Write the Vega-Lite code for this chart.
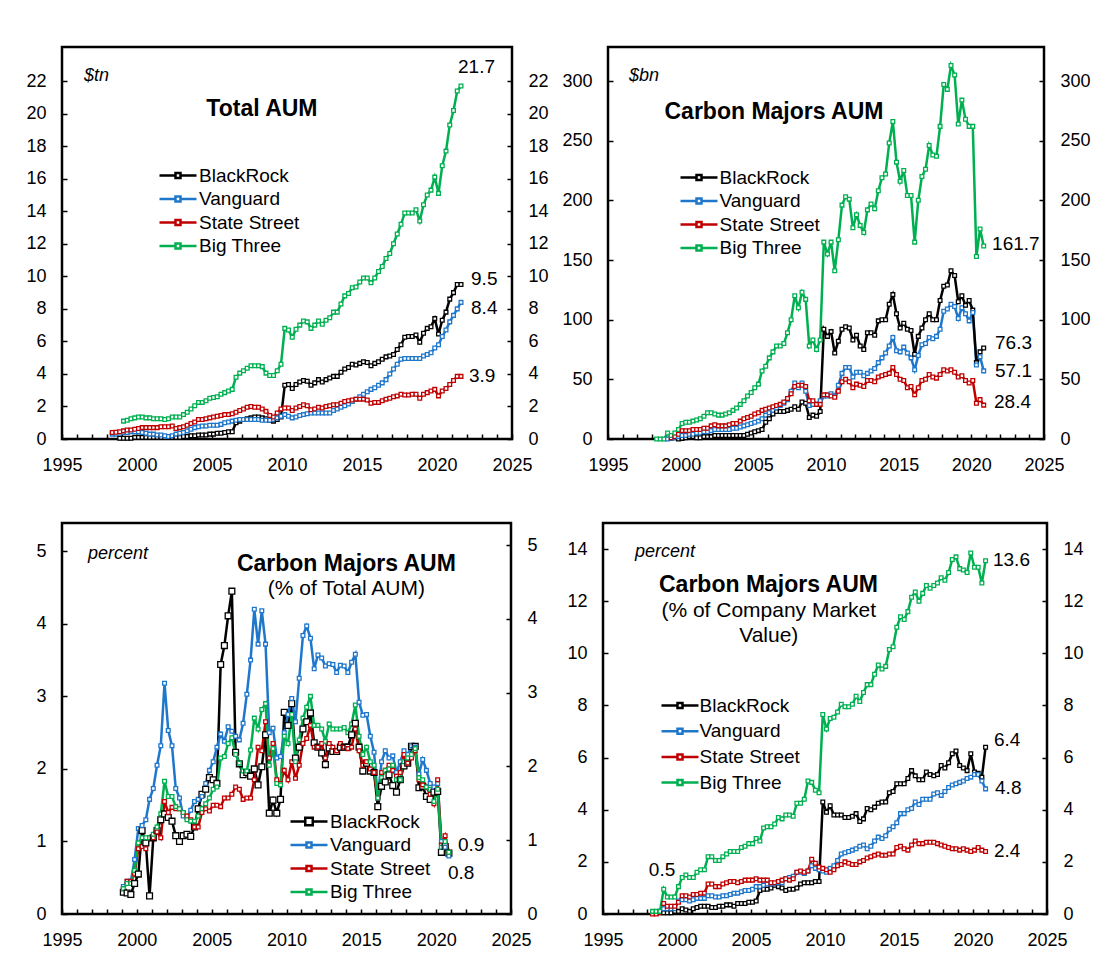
{
"$schema":"https://vega.github.io/schema/vega-lite/v6.json",
"padding":{"left":24,"top":45,"right":10,"bottom":10},
"background":"white",
"spacing":45,
"resolve":{"scale":{"color":"independent"},"legend":{"color":"independent"}},
"config":{
 "font":"Liberation Sans",
 "view":{"stroke":"black","strokeWidth":2.5},
 "axis":{"grid":false,"domain":false,"tickColor":"black","tickWidth":1.5,"labelColor":"black","labelFontSize":18,"labelOverlap":false,"labelBound":false,"labelFlush":false},
 "legend":{"padding":0,"labelFontSize":19,"labelColor":"black","labelLimit":300},
 "text":{"color":"black"}
},
"vconcat":[
{"hconcat":[
{
 "width":450,"height":392,
 "layer":[
  {
   "encoding":{
    "x":{"field":"t","type":"quantitative","scale":{"domain":[1995,2025],"nice":false,"zero":false},"axis":{"title":null,"values":[1995,1996,1997,1998,1999,2000,2001,2002,2003,2004,2005,2006,2007,2008,2009,2010,2011,2012,2013,2014,2015,2016,2017,2018,2019,2020,2021,2022,2023,2024,2025],"format":"d","labelExpr":"datum.value % 5 === 0 ? datum.label : ''","tickSize":-5,"labelPadding":22}},
    "y":{"field":"v","type":"quantitative","scale":{"domain":[0,24.1],"nice":false},"axis":{"title":null,"orient":"left","values":[0,2,4,6,8,10,12,14,16,18,20,22],"tickSize":-5,"labelPadding":21}}
   },
   "layer":[
    {
     "data":{"values":[
{"t":1998.35,"V":0.3,"S":0.4},
{"t":1998.6,"V":0.3,"S":0.42},
{"t":1998.85,"B":0.05,"V":0.35,"S":0.45},
{"t":1999.1,"B":0.05,"V":0.4,"S":0.5,"G":1.1},
{"t":1999.35,"B":0.05,"V":0.4,"S":0.55,"G":1.15},
{"t":1999.6,"B":0.05,"V":0.45,"S":0.55,"G":1.25},
{"t":1999.85,"B":0.1,"V":0.45,"S":0.6,"G":1.3},
{"t":2000.1,"B":0.1,"V":0.45,"S":0.65,"G":1.35},
{"t":2000.35,"B":0.1,"V":0.4,"S":0.7,"G":1.35},
{"t":2000.6,"B":0.1,"V":0.35,"S":0.7,"G":1.3},
{"t":2000.85,"B":0.1,"V":0.3,"S":0.7,"G":1.3},
{"t":2001.1,"B":0.1,"V":0.3,"S":0.7,"G":1.25},
{"t":2001.35,"B":0.1,"V":0.25,"S":0.7,"G":1.25},
{"t":2001.6,"B":0.1,"V":0.25,"S":0.75,"G":1.25},
{"t":2001.85,"B":0.1,"V":0.2,"S":0.75,"G":1.2},
{"t":2002.1,"B":0.1,"V":0.15,"S":0.75,"G":1.25},
{"t":2002.35,"B":0.1,"V":0.2,"S":0.8,"G":1.35},
{"t":2002.6,"B":0.1,"V":0.3,"S":0.65,"G":1.35},
{"t":2002.85,"B":0.1,"V":0.35,"S":0.7,"G":1.35},
{"t":2003.1,"B":0.15,"V":0.4,"S":0.75,"G":1.5},
{"t":2003.35,"B":0.15,"V":0.5,"S":0.85,"G":1.65},
{"t":2003.6,"B":0.2,"V":0.6,"S":0.95,"G":1.85},
{"t":2003.85,"B":0.2,"V":0.7,"S":1.05,"G":2.05},
{"t":2004.1,"B":0.25,"V":0.75,"S":1.2,"G":2.25},
{"t":2004.35,"B":0.25,"V":0.8,"S":1.2,"G":2.25},
{"t":2004.6,"B":0.25,"V":0.8,"S":1.25,"G":2.35},
{"t":2004.85,"B":0.3,"V":0.85,"S":1.3,"G":2.5},
{"t":2005.1,"B":0.3,"V":0.85,"S":1.35,"G":2.55},
{"t":2005.35,"B":0.35,"V":0.85,"S":1.4,"G":2.6},
{"t":2005.6,"B":0.35,"V":0.9,"S":1.45,"G":2.75},
{"t":2005.85,"B":0.4,"V":1.0,"S":1.5,"G":2.85},
{"t":2006.1,"B":0.45,"V":1.05,"S":1.5,"G":2.95},
{"t":2006.35,"B":0.45,"V":1.1,"S":1.55,"G":3.05},
{"t":2006.6,"B":1.0,"V":1.15,"S":1.65,"G":3.8},
{"t":2006.85,"B":1.1,"V":1.2,"S":1.75,"G":4.05},
{"t":2007.1,"B":1.2,"V":1.2,"S":1.85,"G":4.2},
{"t":2007.35,"B":1.25,"V":1.2,"S":1.95,"G":4.35},
{"t":2007.6,"B":1.3,"V":1.2,"S":2.0,"G":4.5},
{"t":2007.85,"B":1.35,"V":1.2,"S":1.95,"G":4.5},
{"t":2008.1,"B":1.35,"V":1.2,"S":1.95,"G":4.5},
{"t":2008.35,"B":1.3,"V":1.15,"S":1.85,"G":4.45},
{"t":2008.6,"B":1.25,"V":1.15,"S":1.7,"G":4.05},
{"t":2008.85,"B":1.15,"V":1.15,"S":1.45,"G":3.9},
{"t":2009.1,"B":1.1,"V":1.2,"S":1.35,"G":3.9},
{"t":2009.35,"B":1.2,"V":1.3,"S":1.6,"G":4.2},
{"t":2009.6,"B":1.35,"V":1.4,"S":1.85,"G":4.6},
{"t":2009.85,"B":3.3,"V":1.5,"S":1.9,"G":6.8},
{"t":2010.1,"B":3.35,"V":1.4,"S":1.9,"G":6.7},
{"t":2010.35,"B":3.1,"V":1.3,"S":1.75,"G":6.25},
{"t":2010.6,"B":3.35,"V":1.35,"S":1.9,"G":6.75},
{"t":2010.85,"B":3.5,"V":1.45,"S":2.0,"G":7.0},
{"t":2011.1,"B":3.6,"V":1.5,"S":2.1,"G":7.25},
{"t":2011.35,"B":3.55,"V":1.55,"S":2.05,"G":7.2},
{"t":2011.6,"B":3.3,"V":1.6,"S":1.8,"G":6.8},
{"t":2011.85,"B":3.45,"V":1.6,"S":1.85,"G":7.0},
{"t":2012.1,"B":3.65,"V":1.6,"S":1.95,"G":7.25},
{"t":2012.35,"B":3.5,"V":1.6,"S":1.9,"G":7.05},
{"t":2012.6,"B":3.65,"V":1.6,"S":2.0,"G":7.3},
{"t":2012.85,"B":3.75,"V":1.6,"S":2.05,"G":7.45},
{"t":2013.1,"B":3.85,"V":1.75,"S":2.1,"G":7.8},
{"t":2013.35,"B":3.85,"V":1.85,"S":2.1,"G":7.8},
{"t":2013.6,"B":4.1,"V":1.95,"S":2.2,"G":8.3},
{"t":2013.85,"B":4.3,"V":2.05,"S":2.3,"G":8.8},
{"t":2014.1,"B":4.4,"V":2.15,"S":2.35,"G":8.95},
{"t":2014.35,"B":4.6,"V":2.3,"S":2.4,"G":9.3},
{"t":2014.6,"B":4.55,"V":2.45,"S":2.45,"G":9.35},
{"t":2014.85,"B":4.65,"V":2.6,"S":2.45,"G":9.65},
{"t":2015.1,"B":4.75,"V":2.75,"S":2.45,"G":9.9},
{"t":2015.35,"B":4.7,"V":2.9,"S":2.4,"G":9.9},
{"t":2015.6,"B":4.5,"V":3.05,"S":2.2,"G":9.6},
{"t":2015.85,"B":4.65,"V":3.15,"S":2.25,"G":9.9},
{"t":2016.1,"B":4.75,"V":3.3,"S":2.25,"G":10.3},
{"t":2016.35,"B":4.9,"V":3.45,"S":2.35,"G":10.6},
{"t":2016.6,"B":5.05,"V":3.65,"S":2.45,"G":11.1},
{"t":2016.85,"B":5.1,"V":4.0,"S":2.5,"G":11.4},
{"t":2017.1,"B":5.2,"V":4.3,"S":2.6,"G":12.0},
{"t":2017.35,"B":5.5,"V":4.6,"S":2.65,"G":12.6},
{"t":2017.6,"B":5.8,"V":4.9,"S":2.75,"G":13.2},
{"t":2017.85,"B":6.25,"V":4.95,"S":2.7,"G":13.9},
{"t":2018.1,"B":6.3,"V":4.95,"S":2.7,"G":13.9},
{"t":2018.35,"B":6.3,"V":4.95,"S":2.75,"G":13.9},
{"t":2018.6,"B":6.4,"V":4.95,"S":2.75,"G":14.1},
{"t":2018.85,"B":5.95,"V":4.95,"S":2.5,"G":13.4},
{"t":2019.1,"B":6.5,"V":5.1,"S":2.75,"G":14.4},
{"t":2019.35,"B":6.8,"V":5.2,"S":2.85,"G":15.0},
{"t":2019.6,"B":6.9,"V":5.3,"S":2.95,"G":15.3},
{"t":2019.85,"B":7.4,"V":5.6,"S":3.05,"G":16.1},
{"t":2020.1,"B":6.45,"V":5.8,"S":2.65,"G":15.1},
{"t":2020.35,"B":7.3,"V":6.3,"S":2.95,"G":16.8},
{"t":2020.6,"B":7.8,"V":6.7,"S":3.1,"G":17.7},
{"t":2020.85,"B":8.6,"V":7.2,"S":3.35,"G":19.3},
{"t":2021.1,"B":9.0,"V":7.6,"S":3.6,"G":20.2},
{"t":2021.35,"B":9.5,"V":8.0,"S":3.85,"G":21.4},
{"t":2021.6,"B":9.5,"V":8.4,"S":3.85,"G":21.7}
     ]},
     "transform":[{"fold":["B","V","S","G"],"as":["s","v"]},{"filter":"isValid(datum.v)"}],
     "encoding":{"color":{"field":"s","type":"nominal","scale":{"domain":["B","V","S","G"],"range":["#000000","#1F77CC","#C00000","#00B050"]},"legend":{"title":null,"orient":"none","legendX":106.5,"legendY":119,"rowPadding":3.5,"symbolType":"M-3.7,0H-0.5M0.5,0H3.7M-0.5,-0.5H0.5V0.5H-0.5Z","symbolSize":100,"symbolStrokeWidth":2.5,"labelOffset":11.5,"labelExpr":"datum.label == 'B' ? 'BlackRock' : datum.label == 'V' ? 'Vanguard' : datum.label == 'S' ? 'State Street' : 'Big Three'"}}},
     "layer":[
      {"mark":{"type":"line","strokeWidth":2.5}},
      {"mark":{"type":"point","shape":"square","filled":false,"fill":"white","size":14,"strokeWidth":1.3,"opacity":1}}
     ]
    },
    {"data":{"values":[{"t":2008.33,"v":20.3,"lab":"Total AUM"}]},"mark":{"type":"text","fontSize":23,"fontWeight":"bold"},"encoding":{"text":{"field":"lab"}}},
    {"data":{"values":[{"t":1996.47,"v":22.3,"lab":"$tn"}]},"mark":{"type":"text","fontSize":18,"fontStyle":"italic","align":"left"},"encoding":{"text":{"field":"lab"}}},
    {"data":{"values":[{"t":2021.4,"v":22.85,"lab":"21.7"},{"t":2022.27,"v":9.83,"lab":"9.5"},{"t":2022.27,"v":8.07,"lab":"8.4"},{"t":2022.13,"v":3.87,"lab":"3.9"}]},"mark":{"type":"text","fontSize":19,"align":"left"},"encoding":{"text":{"field":"lab"}}}
   ]
  },
  {"data":{"values":[{"r":0}]},"mark":{"type":"tick","opacity":0},"encoding":{"y":{"field":"r","type":"quantitative","scale":{"domain":[0,24.1],"nice":false},"axis":{"title":null,"orient":"right","values":[0,2,4,6,8,10,12,14,16,18,20,22],"tickSize":-5,"labelPadding":21}}}}
 ],
 "resolve":{"scale":{"y":"independent"}}
},
{
 "width":436,"height":392,
 "layer":[
  {
   "encoding":{
    "x":{"field":"t","type":"quantitative","scale":{"domain":[1995,2025],"nice":false,"zero":false},"axis":{"title":null,"values":[1995,1996,1997,1998,1999,2000,2001,2002,2003,2004,2005,2006,2007,2008,2009,2010,2011,2012,2013,2014,2015,2016,2017,2018,2019,2020,2021,2022,2023,2024,2025],"format":"d","labelExpr":"datum.value % 5 === 0 ? datum.label : ''","tickSize":-5,"labelPadding":22}},
    "y":{"field":"v","type":"quantitative","scale":{"domain":[0,328.5],"nice":false},"axis":{"title":null,"orient":"left","values":[0,50,100,150,200,250,300],"tickSize":-5,"labelPadding":21}}
   },
   "layer":[
    {
     "data":{"values":[
{"t":1998.35,"G":0},
{"t":1998.6,"G":0},
{"t":1998.85,"G":0},
{"t":1999.1,"V":0,"G":5},
{"t":1999.35,"V":0.5,"S":1,"G":3},
{"t":1999.6,"V":1,"S":2,"G":5},
{"t":1999.85,"B":0,"V":2,"S":4,"G":8},
{"t":2000.1,"B":0.5,"V":3,"S":7,"G":13},
{"t":2000.35,"B":1,"V":3,"S":7,"G":14},
{"t":2000.6,"B":2,"V":4,"S":7,"G":14},
{"t":2000.85,"B":2,"V":4,"S":8,"G":15},
{"t":2001.1,"B":1,"V":5,"S":8,"G":16},
{"t":2001.35,"B":1,"V":5,"S":8,"G":17},
{"t":2001.6,"B":2,"V":6,"S":9,"G":19},
{"t":2001.85,"B":2,"V":6,"S":9,"G":22},
{"t":2002.1,"B":2,"V":7,"S":11,"G":22},
{"t":2002.35,"B":3,"V":8,"S":12,"G":21},
{"t":2002.6,"B":3,"V":8,"S":11,"G":20},
{"t":2002.85,"B":3,"V":8,"S":11,"G":20},
{"t":2003.1,"B":3,"V":8,"S":11,"G":21},
{"t":2003.35,"B":3,"V":8,"S":12,"G":22},
{"t":2003.6,"B":3,"V":9,"S":13,"G":24},
{"t":2003.85,"B":3,"V":9,"S":13,"G":26},
{"t":2004.1,"B":3,"V":10,"S":15,"G":29},
{"t":2004.35,"B":3,"V":11,"S":17,"G":32},
{"t":2004.6,"B":4,"V":12,"S":18,"G":36},
{"t":2004.85,"B":5,"V":13,"S":19,"G":39},
{"t":2005.1,"B":6,"V":14,"S":21,"G":43},
{"t":2005.35,"B":7,"V":15,"S":22,"G":46},
{"t":2005.6,"B":8,"V":17,"S":24,"G":57},
{"t":2005.85,"B":14,"V":20,"S":25,"G":61},
{"t":2006.1,"B":17,"V":22,"S":26,"G":68},
{"t":2006.35,"B":21,"V":24,"S":27,"G":73},
{"t":2006.6,"B":23,"V":26,"S":28,"G":78},
{"t":2006.85,"B":23,"V":28,"S":29,"G":78},
{"t":2007.1,"B":23,"V":30,"S":31,"G":80},
{"t":2007.35,"B":24,"V":33,"S":34,"G":89},
{"t":2007.6,"B":25,"V":40,"S":38,"G":100},
{"t":2007.85,"B":27,"V":47,"S":44,"G":120},
{"t":2008.1,"B":25,"V":43,"S":45,"G":110},
{"t":2008.35,"B":31,"V":47,"S":45,"G":123},
{"t":2008.6,"B":30,"V":40,"S":44,"G":117},
{"t":2008.85,"B":18,"V":28,"S":32,"G":78},
{"t":2009.1,"B":20,"V":29,"S":32,"G":83},
{"t":2009.35,"B":19,"V":29,"S":29,"G":75},
{"t":2009.6,"B":23,"V":32,"S":29,"G":83},
{"t":2009.85,"B":92,"V":36,"S":37,"G":165},
{"t":2010.1,"B":86,"V":36,"S":37,"G":155},
{"t":2010.35,"B":90,"V":38,"S":36,"G":165},
{"t":2010.6,"B":72,"V":36,"S":35,"G":141},
{"t":2010.85,"B":82,"V":45,"S":40,"G":167},
{"t":2011.1,"B":92,"V":55,"S":48,"G":196},
{"t":2011.35,"B":94,"V":60,"S":50,"G":203},
{"t":2011.6,"B":93,"V":60,"S":48,"G":201},
{"t":2011.85,"B":83,"V":52,"S":43,"G":177},
{"t":2012.1,"B":87,"V":56,"S":46,"G":188},
{"t":2012.35,"B":78,"V":56,"S":45,"G":179},
{"t":2012.6,"B":75,"V":53,"S":44,"G":173},
{"t":2012.85,"B":89,"V":55,"S":49,"G":192},
{"t":2013.1,"B":89,"V":57,"S":49,"G":197},
{"t":2013.35,"B":87,"V":59,"S":48,"G":193},
{"t":2013.6,"B":99,"V":64,"S":52,"G":208},
{"t":2013.85,"B":100,"V":68,"S":53,"G":219},
{"t":2014.1,"B":100,"V":72,"S":54,"G":222},
{"t":2014.35,"B":113,"V":78,"S":55,"G":248},
{"t":2014.6,"B":121,"V":85,"S":60,"G":266},
{"t":2014.85,"B":105,"V":74,"S":54,"G":232},
{"t":2015.1,"B":93,"V":73,"S":50,"G":216},
{"t":2015.35,"B":97,"V":77,"S":49,"G":225},
{"t":2015.6,"B":92,"V":72,"S":43,"G":204},
{"t":2015.85,"B":91,"V":68,"S":44,"G":204},
{"t":2016.1,"B":71,"V":58,"S":37,"G":165},
{"t":2016.35,"B":86,"V":70,"S":43,"G":200},
{"t":2016.6,"B":93,"V":79,"S":49,"G":220},
{"t":2016.85,"B":100,"V":80,"S":50,"G":226},
{"t":2017.1,"B":105,"V":85,"S":54,"G":246},
{"t":2017.35,"B":100,"V":84,"S":52,"G":238},
{"t":2017.6,"B":100,"V":86,"S":51,"G":237},
{"t":2017.85,"B":116,"V":92,"S":54,"G":262},
{"t":2018.1,"B":128,"V":107,"S":58,"G":297},
{"t":2018.35,"B":129,"V":109,"S":57,"G":293},
{"t":2018.6,"B":141,"V":113,"S":58,"G":313},
{"t":2018.85,"B":137,"V":111,"S":56,"G":305},
{"t":2019.1,"B":115,"V":101,"S":52,"G":264},
{"t":2019.35,"B":120,"V":110,"S":53,"G":284},
{"t":2019.6,"B":112,"V":105,"S":49,"G":268},
{"t":2019.85,"B":116,"V":99,"S":47,"G":262},
{"t":2020.1,"B":108,"V":106,"S":49,"G":262},
{"t":2020.35,"B":64,"V":62,"S":30,"G":153},
{"t":2020.6,"B":73,"V":69,"S":33,"G":176},
{"t":2020.85,"B":76.3,"V":57.1,"S":28.4,"G":161.7}
     ]},
     "transform":[{"fold":["B","V","S","G"],"as":["s","v"]},{"filter":"isValid(datum.v)"}],
     "encoding":{"color":{"field":"s","type":"nominal","scale":{"domain":["B","V","S","G"],"range":["#000000","#1F77CC","#C00000","#00B050"]},"legend":{"title":null,"orient":"none","legendX":81.5,"legendY":121,"rowPadding":3.5,"symbolType":"M-3.7,0H-0.5M0.5,0H3.7M-0.5,-0.5H0.5V0.5H-0.5Z","symbolSize":100,"symbolStrokeWidth":2.5,"labelOffset":11,"labelExpr":"datum.label == 'B' ? 'BlackRock' : datum.label == 'V' ? 'Vanguard' : datum.label == 'S' ? 'State Street' : 'Big Three'"}}},
     "layer":[
      {"mark":{"type":"line","strokeWidth":2.5}},
      {"mark":{"type":"point","shape":"square","filled":false,"fill":"white","size":14,"strokeWidth":1.3,"opacity":1}}
     ]
    },
    {"data":{"values":[{"t":2006.42,"v":274,"lab":"Carbon Majors AUM"}]},"mark":{"type":"text","fontSize":23,"fontWeight":"bold"},"encoding":{"text":{"field":"lab"}}},
    {"data":{"values":[{"t":1996.45,"v":304,"lab":"$bn"}]},"mark":{"type":"text","fontSize":18,"fontStyle":"italic","align":"left"},"encoding":{"text":{"field":"lab"}}},
    {"data":{"values":[{"t":2021.43,"v":163.7,"lab":"161.7"},{"t":2021.63,"v":80.7,"lab":"76.3"},{"t":2021.63,"v":57,"lab":"57.1"},{"t":2021.56,"v":31.3,"lab":"28.4"}]},"mark":{"type":"text","fontSize":19,"align":"left"},"encoding":{"text":{"field":"lab"}}}
   ]
  },
  {"data":{"values":[{"r":0}]},"mark":{"type":"tick","opacity":0},"encoding":{"y":{"field":"r","type":"quantitative","scale":{"domain":[0,328.5],"nice":false},"axis":{"title":null,"orient":"right","values":[0,50,100,150,200,250,300],"tickSize":-5,"labelPadding":21}}}}
 ],
 "resolve":{"scale":{"y":"independent"}}
}
],"spacing":96,"bounds":"flush","resolve":{"scale":{"color":"independent"},"legend":{"color":"independent"}}},
{"hconcat":[
{
 "width":449,"height":391,
 "layer":[
  {
   "encoding":{
    "x":{"field":"t","type":"quantitative","scale":{"domain":[1995,2025],"nice":false,"zero":false},"axis":{"title":null,"values":[1995,1996,1997,1998,1999,2000,2001,2002,2003,2004,2005,2006,2007,2008,2009,2010,2011,2012,2013,2014,2015,2016,2017,2018,2019,2020,2021,2022,2023,2024,2025],"format":"d","labelExpr":"datum.value % 5 === 0 ? datum.label : ''","tickSize":-5,"labelPadding":22}},
    "y":{"field":"v","type":"quantitative","scale":{"domain":[0,5.39],"nice":false},"axis":{"title":null,"orient":"left","values":[0,1,2,3,4,5],"tickSize":-5,"labelPadding":21}}
   },
   "layer":[
    {
     "data":{"values":[
{"t":1999.1,"B":0.30,"V":0.38,"S":0.35,"G":0.35},
{"t":1999.35,"B":0.29,"V":0.45,"S":0.45,"G":0.42},
{"t":1999.6,"B":0.27,"V":0.45,"S":0.45,"G":0.42},
{"t":1999.85,"B":0.42,"V":0.75,"S":0.55,"G":0.6},
{"t":2000.1,"B":0.55,"V":1.18,"S":0.9,"G":0.98},
{"t":2000.35,"B":1.15,"V":1.22,"S":0.93,"G":1.05},
{"t":2000.6,"B":0.98,"V":1.3,"S":0.9,"G":1.05},
{"t":2000.85,"B":0.25,"V":1.58,"S":1.05,"G":1.05},
{"t":2001.1,"B":1.05,"V":1.73,"S":1.05,"G":1.1},
{"t":2001.35,"B":1.15,"V":2.05,"S":1.13,"G":1.2},
{"t":2001.6,"B":1.3,"V":2.32,"S":1.05,"G":1.38},
{"t":2001.85,"B":1.38,"V":3.18,"S":1.55,"G":1.83},
{"t":2002.1,"B":1.33,"V":2.53,"S":1.4,"G":1.62},
{"t":2002.35,"B":1.28,"V":2.32,"S":1.47,"G":1.62},
{"t":2002.6,"B":1.08,"V":1.73,"S":1.45,"G":1.48},
{"t":2002.85,"B":1.0,"V":1.6,"S":1.45,"G":1.45},
{"t":2003.1,"B":1.08,"V":1.35,"S":1.4,"G":1.4},
{"t":2003.35,"B":1.1,"V":1.33,"S":1.35,"G":1.3},
{"t":2003.6,"B":1.07,"V":1.43,"S":1.3,"G":1.28},
{"t":2003.85,"B":1.2,"V":1.55,"S":1.2,"G":1.28},
{"t":2004.1,"B":1.45,"V":1.58,"S":1.2,"G":1.35},
{"t":2004.35,"B":1.65,"V":1.62,"S":1.4,"G":1.45},
{"t":2004.6,"B":1.72,"V":1.8,"S":1.45,"G":1.52},
{"t":2004.85,"B":1.88,"V":1.98,"S":1.42,"G":1.6},
{"t":2005.1,"B":1.85,"V":2.1,"S":1.5,"G":1.72},
{"t":2005.35,"B":1.8,"V":2.3,"S":1.5,"G":1.75},
{"t":2005.6,"B":3.44,"V":2.48,"S":1.48,"G":2.15},
{"t":2005.85,"B":3.7,"V":2.38,"S":1.6,"G":2.17},
{"t":2006.1,"B":4.11,"V":2.58,"S":1.6,"G":2.35},
{"t":2006.35,"B":4.45,"V":2.52,"S":1.65,"G":2.43},
{"t":2006.6,"B":2.23,"V":2.45,"S":1.75,"G":2.2},
{"t":2006.85,"B":2.07,"V":2.4,"S":1.72,"G":2.08},
{"t":2007.1,"B":1.92,"V":2.63,"S":1.58,"G":1.97},
{"t":2007.35,"B":1.95,"V":3.03,"S":1.6,"G":1.97},
{"t":2007.6,"B":1.9,"V":3.5,"S":1.6,"G":2.26},
{"t":2007.85,"B":2.0,"V":4.2,"S":1.85,"G":2.7},
{"t":2008.1,"B":1.78,"V":3.72,"S":2.3,"G":2.55},
{"t":2008.35,"B":2.03,"V":4.18,"S":2.25,"G":2.82},
{"t":2008.6,"B":2.47,"V":3.72,"S":2.65,"G":2.9},
{"t":2008.85,"B":1.39,"V":2.5,"S":2.15,"G":2.05},
{"t":2009.1,"B":1.57,"V":2.56,"S":2.35,"G":2.28},
{"t":2009.35,"B":1.39,"V":2.15,"S":1.85,"G":1.8},
{"t":2009.6,"B":1.58,"V":2.17,"S":1.8,"G":1.78},
{"t":2009.85,"B":2.78,"V":2.5,"S":1.98,"G":2.45},
{"t":2010.1,"B":2.6,"V":2.75,"S":1.85,"G":2.35},
{"t":2010.35,"B":2.9,"V":2.97,"S":2.1,"G":2.75},
{"t":2010.6,"B":2.15,"V":2.65,"S":1.87,"G":2.1},
{"t":2010.85,"B":2.3,"V":3.25,"S":2.05,"G":2.4},
{"t":2011.1,"B":2.55,"V":3.84,"S":2.35,"G":2.7},
{"t":2011.35,"B":2.65,"V":3.97,"S":2.42,"G":2.85},
{"t":2011.6,"B":2.77,"V":3.8,"S":2.6,"G":3.0},
{"t":2011.85,"B":2.36,"V":3.38,"S":2.3,"G":2.6},
{"t":2012.1,"B":2.3,"V":3.57,"S":2.3,"G":2.6},
{"t":2012.35,"B":2.22,"V":3.53,"S":2.35,"G":2.55},
{"t":2012.6,"B":2.06,"V":3.42,"S":2.15,"G":2.38},
{"t":2012.85,"B":2.29,"V":3.45,"S":2.35,"G":2.62},
{"t":2013.1,"B":2.24,"V":3.44,"S":2.3,"G":2.55},
{"t":2013.35,"B":2.24,"V":3.33,"S":2.25,"G":2.55},
{"t":2013.6,"B":2.3,"V":3.43,"S":2.35,"G":2.55},
{"t":2013.85,"B":2.3,"V":3.42,"S":2.3,"G":2.57},
{"t":2014.1,"B":2.3,"V":3.33,"S":2.28,"G":2.5},
{"t":2014.35,"B":2.47,"V":3.47,"S":2.3,"G":2.62},
{"t":2014.6,"B":2.63,"V":3.58,"S":2.55,"G":2.88},
{"t":2014.85,"B":2.3,"V":2.92,"S":2.25,"G":2.45},
{"t":2015.1,"B":1.97,"V":2.74,"S":2.05,"G":2.2},
{"t":2015.35,"B":2.08,"V":2.75,"S":2.1,"G":2.3},
{"t":2015.6,"B":1.97,"V":2.45,"S":2.0,"G":2.1},
{"t":2015.85,"B":1.95,"V":2.23,"S":1.95,"G":2.05},
{"t":2016.1,"B":1.48,"V":1.6,"S":1.6,"G":1.6},
{"t":2016.35,"B":1.76,"V":2.1,"S":1.95,"G":1.88},
{"t":2016.6,"B":1.82,"V":2.25,"S":1.98,"G":1.98},
{"t":2016.85,"B":1.92,"V":2.15,"S":2.05,"G":2.0},
{"t":2017.1,"B":1.77,"V":2.18,"S":1.98,"G":2.05},
{"t":2017.35,"B":1.68,"V":1.95,"S":1.9,"G":1.85},
{"t":2017.6,"B":1.85,"V":2.1,"S":1.95,"G":1.85},
{"t":2017.85,"B":2.04,"V":2.25,"S":2.2,"G":2.1},
{"t":2018.1,"B":2.08,"V":2.2,"S":2.08,"G":2.15},
{"t":2018.35,"B":2.31,"V":2.32,"S":2.15,"G":2.2},
{"t":2018.6,"B":2.31,"V":2.3,"S":2.25,"G":2.28},
{"t":2018.85,"B":1.74,"V":1.93,"S":1.85,"G":1.88},
{"t":2019.1,"B":1.76,"V":2.13,"S":1.78,"G":1.85},
{"t":2019.35,"B":1.62,"V":1.98,"S":1.75,"G":1.75},
{"t":2019.6,"B":1.58,"V":1.8,"S":1.65,"G":1.72},
{"t":2019.85,"B":1.68,"V":1.75,"S":1.52,"G":1.55},
{"t":2020.1,"B":1.69,"V":1.8,"S":1.85,"G":1.72},
{"t":2020.35,"B":0.85,"V":1.0,"S":0.95,"G":0.92},
{"t":2020.6,"B":0.93,"V":0.92,"S":1.08,"G":1.0},
{"t":2020.85,"B":0.84,"V":0.8,"S":0.85,"G":0.85}
     ]},
     "transform":[{"fold":["B","V","S","G"],"as":["s","v"]},{"filter":"isValid(datum.v)"}],
     "encoding":{"color":{"field":"s","type":"nominal","scale":{"domain":["B","V","S","G"],"range":["#000000","#1F77CC","#C00000","#00B050"]},"legend":{"title":null,"orient":"none","legendX":237.5,"legendY":289,"rowPadding":3.5,"symbolType":"M-3.7,0H-0.5M0.5,0H3.7M-0.5,-0.5H0.5V0.5H-0.5Z","symbolSize":100,"symbolStrokeWidth":2.5,"labelOffset":11.5,"labelExpr":"datum.label == 'B' ? 'BlackRock' : datum.label == 'V' ? 'Vanguard' : datum.label == 'S' ? 'State Street' : 'Big Three'","encode":{"symbols":{"update":{"shape":{"signal":"datum.value === 'B' ? 'M-3.7,0H-0.75M0.75,0H3.7M-0.75,-0.75H0.75V0.75H-0.75Z' : 'M-3.7,0H-0.5M0.5,0H3.7M-0.5,-0.5H0.5V0.5H-0.5Z'"}}}}}}},
     "layer":[
      {"mark":{"type":"line","strokeWidth":2.5}},
      {"mark":{"type":"point","shape":"square","filled":false,"fill":"white","strokeWidth":1.3,"opacity":1},"encoding":{"size":{"condition":{"test":"datum.s === 'B'","value":34},"value":14}}}
     ]
    },
    {"data":{"values":[{"t":2014.0,"v":4.83,"lab":"Carbon Majors AUM"}]},"mark":{"type":"text","fontSize":23,"fontWeight":"bold"},"encoding":{"text":{"field":"lab"}}},
    {"data":{"values":[{"t":2014.0,"v":4.48,"lab":"(% of Total AUM)"}]},"mark":{"type":"text","fontSize":21},"encoding":{"text":{"field":"lab"}}},
    {"data":{"values":[{"t":1996.74,"v":4.96,"lab":"percent"}]},"mark":{"type":"text","fontSize":18,"fontStyle":"italic","align":"left"},"encoding":{"text":{"field":"lab"}}},
    {"data":{"values":[{"t":2021.46,"v":0.955,"lab":"0.9"},{"t":2020.79,"v":0.565,"lab":"0.8"}]},"mark":{"type":"text","fontSize":19,"align":"left"},"encoding":{"text":{"field":"lab"}}}
   ]
  },
  {"data":{"values":[{"r":0}]},"mark":{"type":"tick","opacity":0},"encoding":{"y":{"field":"r","type":"quantitative","scale":{"domain":[0,5.3],"nice":false},"axis":{"title":null,"orient":"right","values":[0,1,2,3,4,5],"tickSize":-5,"labelPadding":21}}}}
 ],
 "resolve":{"scale":{"y":"independent"}}
},
{
 "width":444,"height":391,
 "layer":[
  {
   "encoding":{
    "x":{"field":"t","type":"quantitative","scale":{"domain":[1995,2025],"nice":false,"zero":false},"axis":{"title":null,"values":[1995,1996,1997,1998,1999,2000,2001,2002,2003,2004,2005,2006,2007,2008,2009,2010,2011,2012,2013,2014,2015,2016,2017,2018,2019,2020,2021,2022,2023,2024,2025],"format":"d","labelExpr":"datum.value % 5 === 0 ? datum.label : ''","tickSize":-5,"labelPadding":22}},
    "y":{"field":"v","type":"quantitative","scale":{"domain":[0,15],"nice":false},"axis":{"title":null,"orient":"left","values":[0,2,4,6,8,10,12,14],"tickSize":-5,"labelPadding":21}}
   },
   "layer":[
    {
     "data":{"values":[
{"t":1998.35,"V":0.05,"S":0,"G":0.1},
{"t":1998.6,"V":0.05,"S":0,"G":0.1},
{"t":1998.85,"V":0.1,"S":0.05,"G":0.1},
{"t":1999.1,"B":0.05,"V":0.2,"S":0.4,"G":0.95},
{"t":1999.35,"B":0.05,"V":0.2,"S":0.3,"G":0.65},
{"t":1999.6,"B":0.05,"V":0.2,"S":0.3,"G":0.65},
{"t":1999.85,"B":0.1,"V":0.2,"S":0.3,"G":0.65},
{"t":2000.1,"B":0.1,"V":0.5,"S":0.45,"G":1.05},
{"t":2000.35,"B":0.2,"V":0.55,"S":0.7,"G":1.4},
{"t":2000.6,"B":0.15,"V":0.55,"S":0.7,"G":1.5},
{"t":2000.85,"B":0.1,"V":0.5,"S":0.65,"G":1.4},
{"t":2001.1,"B":0.2,"V":0.55,"S":0.75,"G":1.4},
{"t":2001.35,"B":0.25,"V":0.6,"S":0.75,"G":1.6},
{"t":2001.6,"B":0.3,"V":0.6,"S":0.8,"G":1.7},
{"t":2001.85,"B":0.3,"V":0.6,"S":0.8,"G":1.7},
{"t":2002.1,"B":0.3,"V":0.7,"S":1.15,"G":2.2},
{"t":2002.35,"B":0.25,"V":0.7,"S":1.15,"G":2.2},
{"t":2002.6,"B":0.25,"V":0.65,"S":1.05,"G":2.05},
{"t":2002.85,"B":0.3,"V":0.65,"S":1.05,"G":2.05},
{"t":2003.1,"B":0.3,"V":0.7,"S":1.15,"G":2.2},
{"t":2003.35,"B":0.35,"V":0.7,"S":1.2,"G":2.3},
{"t":2003.6,"B":0.35,"V":0.75,"S":1.25,"G":2.4},
{"t":2003.85,"B":0.3,"V":0.8,"S":1.25,"G":2.4},
{"t":2004.1,"B":0.4,"V":0.8,"S":1.2,"G":2.4},
{"t":2004.35,"B":0.4,"V":0.85,"S":1.25,"G":2.55},
{"t":2004.6,"B":0.4,"V":0.9,"S":1.3,"G":2.6},
{"t":2004.85,"B":0.45,"V":0.9,"S":1.3,"G":2.7},
{"t":2005.1,"B":0.45,"V":0.95,"S":1.3,"G":2.7},
{"t":2005.35,"B":0.5,"V":1.05,"S":1.35,"G":2.9},
{"t":2005.6,"B":0.9,"V":1.05,"S":1.3,"G":2.8},
{"t":2005.85,"B":0.95,"V":1.1,"S":1.3,"G":3.3},
{"t":2006.1,"B":0.95,"V":1.15,"S":1.3,"G":3.35},
{"t":2006.35,"B":1.0,"V":1.15,"S":1.2,"G":3.35},
{"t":2006.6,"B":1.1,"V":1.15,"S":1.2,"G":3.45},
{"t":2006.85,"B":1.05,"V":1.2,"S":1.25,"G":3.7},
{"t":2007.1,"B":1.0,"V":1.2,"S":1.3,"G":3.65},
{"t":2007.35,"B":0.9,"V":1.35,"S":1.35,"G":3.8},
{"t":2007.6,"B":0.95,"V":1.4,"S":1.3,"G":3.8},
{"t":2007.85,"B":0.95,"V":1.45,"S":1.35,"G":3.75},
{"t":2008.1,"B":1.0,"V":1.6,"S":1.6,"G":4.25},
{"t":2008.35,"B":1.15,"V":1.6,"S":1.65,"G":4.25},
{"t":2008.6,"B":1.2,"V":1.55,"S":1.6,"G":4.4},
{"t":2008.85,"B":1.2,"V":1.65,"S":1.65,"G":5.1},
{"t":2009.1,"B":1.2,"V":1.85,"S":2.1,"G":5.05},
{"t":2009.35,"B":1.25,"V":1.75,"S":1.95,"G":4.75},
{"t":2009.6,"B":1.25,"V":1.7,"S":1.8,"G":4.65},
{"t":2009.85,"B":4.3,"V":1.65,"S":1.75,"G":7.65},
{"t":2010.1,"B":3.9,"V":1.6,"S":1.7,"G":7.1},
{"t":2010.35,"B":4.15,"V":1.75,"S":1.6,"G":7.5},
{"t":2010.6,"B":3.8,"V":1.85,"S":1.7,"G":7.55},
{"t":2010.85,"B":3.8,"V":2.05,"S":1.85,"G":7.75},
{"t":2011.1,"B":3.8,"V":2.3,"S":1.9,"G":8.05},
{"t":2011.35,"B":3.7,"V":2.35,"S":2.0,"G":7.95},
{"t":2011.6,"B":3.7,"V":2.4,"S":1.95,"G":7.95},
{"t":2011.85,"B":3.75,"V":2.45,"S":1.9,"G":8.05},
{"t":2012.1,"B":3.85,"V":2.5,"S":1.9,"G":8.35},
{"t":2012.35,"B":3.55,"V":2.6,"S":2.0,"G":8.15},
{"t":2012.6,"B":3.65,"V":2.65,"S":2.05,"G":8.5},
{"t":2012.85,"B":4.05,"V":2.5,"S":2.15,"G":8.8},
{"t":2013.1,"B":4.0,"V":2.6,"S":2.2,"G":8.8},
{"t":2013.35,"B":4.1,"V":2.8,"S":2.25,"G":9.2},
{"t":2013.6,"B":4.25,"V":2.95,"S":2.3,"G":9.55},
{"t":2013.85,"B":4.3,"V":2.9,"S":2.25,"G":9.4},
{"t":2014.1,"B":4.3,"V":3.0,"S":2.25,"G":9.5},
{"t":2014.35,"B":4.65,"V":3.25,"S":2.3,"G":10.15},
{"t":2014.6,"B":4.7,"V":3.35,"S":2.3,"G":10.25},
{"t":2014.85,"B":5.0,"V":3.5,"S":2.55,"G":11.0},
{"t":2015.1,"B":5.0,"V":3.85,"S":2.6,"G":11.4},
{"t":2015.35,"B":5.0,"V":3.85,"S":2.5,"G":11.3},
{"t":2015.6,"B":5.2,"V":4.0,"S":2.45,"G":11.6},
{"t":2015.85,"B":5.5,"V":4.05,"S":2.65,"G":12.15},
{"t":2016.1,"B":5.3,"V":4.3,"S":2.8,"G":12.35},
{"t":2016.35,"B":5.15,"V":4.2,"S":2.7,"G":12.0},
{"t":2016.6,"B":5.15,"V":4.4,"S":2.7,"G":12.3},
{"t":2016.85,"B":5.45,"V":4.4,"S":2.75,"G":12.6},
{"t":2017.1,"B":5.35,"V":4.4,"S":2.75,"G":12.5},
{"t":2017.35,"B":5.3,"V":4.6,"S":2.75,"G":12.6},
{"t":2017.6,"B":5.35,"V":4.65,"S":2.7,"G":12.7},
{"t":2017.85,"B":5.7,"V":4.55,"S":2.65,"G":12.9},
{"t":2018.1,"B":5.6,"V":4.7,"S":2.6,"G":12.8},
{"t":2018.35,"B":5.8,"V":4.85,"S":2.55,"G":13.1},
{"t":2018.6,"B":6.15,"V":4.95,"S":2.5,"G":13.6},
{"t":2018.85,"B":6.25,"V":5.0,"S":2.5,"G":13.7},
{"t":2019.1,"B":5.7,"V":5.05,"S":2.45,"G":13.25},
{"t":2019.35,"B":5.6,"V":5.1,"S":2.5,"G":13.2},
{"t":2019.6,"B":5.5,"V":5.2,"S":2.45,"G":13.1},
{"t":2019.85,"B":6.15,"V":5.25,"S":2.4,"G":13.85},
{"t":2020.1,"B":5.45,"V":5.35,"S":2.45,"G":13.3},
{"t":2020.35,"B":5.4,"V":5.35,"S":2.55,"G":13.3},
{"t":2020.6,"B":5.25,"V":5.1,"S":2.45,"G":12.7},
{"t":2020.85,"B":6.4,"V":4.8,"S":2.4,"G":13.55}
     ]},
     "transform":[{"fold":["B","V","S","G"],"as":["s","v"]},{"filter":"isValid(datum.v)"}],
     "encoding":{"color":{"field":"s","type":"nominal","scale":{"domain":["B","V","S","G"],"range":["#000000","#1F77CC","#C00000","#00B050"]},"legend":{"title":null,"orient":"none","legendX":67.5,"legendY":173,"rowPadding":5.7,"symbolType":"M-3.7,0H-0.5M0.5,0H3.7M-0.5,-0.5H0.5V0.5H-0.5Z","symbolSize":100,"symbolStrokeWidth":2.5,"labelOffset":10,"labelExpr":"datum.label == 'B' ? 'BlackRock' : datum.label == 'V' ? 'Vanguard' : datum.label == 'S' ? 'State Street' : 'Big Three'"}}},
     "layer":[
      {"mark":{"type":"line","strokeWidth":2.5}},
      {"mark":{"type":"point","shape":"square","filled":false,"fill":"white","size":14,"strokeWidth":1.3,"opacity":1}}
     ]
    },
    {"data":{"values":[{"t":2006.18,"v":12.63,"lab":"Carbon Majors AUM"}]},"mark":{"type":"text","fontSize":23,"fontWeight":"bold"},"encoding":{"text":{"field":"lab"}}},
    {"data":{"values":[{"t":2006.2,"v":11.61,"lab":"(% of Company Market"},{"t":2006.2,"v":10.68,"lab":"Value)"}]},"mark":{"type":"text","fontSize":21},"encoding":{"text":{"field":"lab"}}},
    {"data":{"values":[{"t":1997.16,"v":13.89,"lab":"percent"}]},"mark":{"type":"text","fontSize":18,"fontStyle":"italic","align":"left"},"encoding":{"text":{"field":"lab"}}},
    {"data":{"values":[{"t":2021.35,"v":13.59,"lab":"13.6"},{"t":2021.42,"v":6.69,"lab":"6.4"},{"t":2021.49,"v":4.83,"lab":"4.8"},{"t":2021.42,"v":2.4,"lab":"2.4"}]},"mark":{"type":"text","fontSize":19,"align":"left"},"encoding":{"text":{"field":"lab"}}},
    {"data":{"values":[{"t":1998.99,"v":1.7,"lab":"0.5"}]},"mark":{"type":"text","fontSize":19},"encoding":{"text":{"field":"lab"}}}
   ]
  },
  {"data":{"values":[{"r":0}]},"mark":{"type":"tick","opacity":0},"encoding":{"y":{"field":"r","type":"quantitative","scale":{"domain":[0,15],"nice":false},"axis":{"title":null,"orient":"right","values":[0,2,4,6,8,10,12,14],"tickSize":-5,"labelPadding":21}}}}
 ],
 "resolve":{"scale":{"y":"independent"}}
}
],"spacing":92,"bounds":"flush","resolve":{"scale":{"color":"independent"},"legend":{"color":"independent"}}}
]
}
